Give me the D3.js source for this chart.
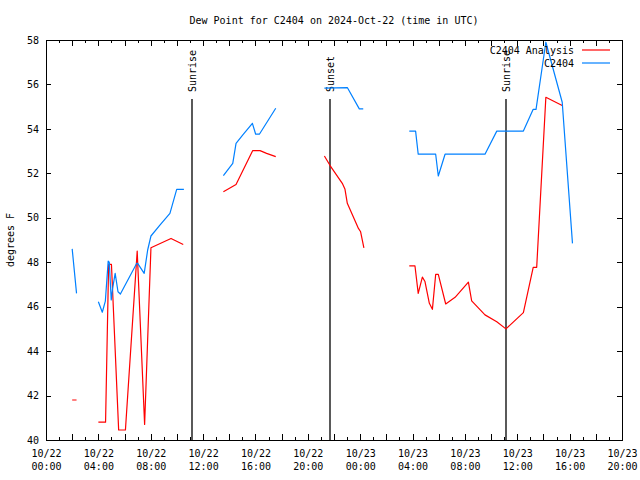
<!DOCTYPE html>
<html><head><meta charset="utf-8">
<script src="https://cdn.jsdelivr.net/npm/d3@7"></script>
<style>
body{margin:0;background:#fff}
svg{display:block}
text{font-family:"DejaVu Sans Mono",monospace;font-size:10px;fill:#000}
</style>
</head><body>
<svg id="c" width="640" height="480"></svg>
<script>
// ---- data (null value = gap in the record) ----
const analysisTimes = [
 "2024-10-22 02:00","2024-10-22 02:20","2024-10-22 03:00",
 "2024-10-22 04:00","2024-10-22 04:33","2024-10-22 04:47","2024-10-22 05:00","2024-10-22 05:33","2024-10-22 06:04",
 "2024-10-22 06:58","2024-10-22 07:32","2024-10-22 08:01","2024-10-22 09:33","2024-10-22 10:29","2024-10-22 12:00",
 "2024-10-22 13:33","2024-10-22 14:31","2024-10-22 15:47","2024-10-22 16:21","2024-10-22 16:51","2024-10-22 17:33","2024-10-22 19:00",
 "2024-10-22 21:16","2024-10-22 21:42","2024-10-22 22:38","2024-10-22 22:50","2024-10-22 23:01","2024-10-22 23:52","2024-10-23 00:02","2024-10-23 00:17","2024-10-23 02:00",
 "2024-10-23 03:45","2024-10-23 04:11","2024-10-23 04:26","2024-10-23 04:45","2024-10-23 04:57","2024-10-23 05:17","2024-10-23 05:31","2024-10-23 05:46","2024-10-23 05:58",
 "2024-10-23 06:32","2024-10-23 07:15","2024-10-23 08:16","2024-10-23 08:31","2024-10-23 09:32","2024-10-23 10:26","2024-10-23 11:08","2024-10-23 12:28",
 "2024-10-23 13:13","2024-10-23 13:29","2024-10-23 14:11","2024-10-23 15:26"
];
const analysisValues = [
 41.8,41.8,null,
 40.8,40.8,47.9,47.9,40.45,40.45,
 48.5,40.7,48.65,49.07,48.8,null,
 51.17,51.5,53.02,53.02,52.9,52.75,null,
 52.78,52.35,51.55,51.3,50.65,49.52,49.37,48.65,null,
 47.84,47.84,46.6,47.33,47.13,46.15,45.88,47.45,47.45,
 46.12,46.42,47.1,46.26,45.63,45.32,45.0,45.73,
 47.77,47.77,55.42,55.05
];
const obsTimes = [
 "2024-10-22 02:00","2024-10-22 02:20","2024-10-22 03:00",
 "2024-10-22 04:00","2024-10-22 04:18","2024-10-22 04:32","2024-10-22 04:45","2024-10-22 04:50","2024-10-22 04:59","2024-10-22 05:05",
 "2024-10-22 05:17","2024-10-22 05:30","2024-10-22 05:41","2024-10-22 06:56","2024-10-22 07:00","2024-10-22 07:30","2024-10-22 07:46",
 "2024-10-22 08:01","2024-10-22 08:42","2024-10-22 09:28","2024-10-22 09:59","2024-10-22 10:32","2024-10-22 12:00",
 "2024-10-22 13:33","2024-10-22 14:16","2024-10-22 14:31","2024-10-22 15:04","2024-10-22 15:46","2024-10-22 16:01","2024-10-22 16:18","2024-10-22 17:33","2024-10-22 19:00",
 "2024-10-22 21:16","2024-10-22 23:01","2024-10-22 23:56","2024-10-23 00:14","2024-10-23 02:00",
 "2024-10-23 03:45","2024-10-23 04:14","2024-10-23 04:26","2024-10-23 05:46","2024-10-23 05:58","2024-10-23 06:29","2024-10-23 09:32",
 "2024-10-23 10:26","2024-10-23 12:28","2024-10-23 13:13","2024-10-23 13:26","2024-10-23 14:11","2024-10-23 15:26","2024-10-23 16:13"
];
const obsValues = [
 48.6,46.6,null,
 46.22,45.75,46.25,48.05,48.0,46.3,46.8,
 47.5,46.67,46.57,47.95,47.95,47.5,48.55,
 49.18,49.67,50.2,51.28,51.28,null,
 51.9,52.45,53.35,53.75,54.25,53.76,53.76,54.93,null,
 55.83,55.86,54.9,54.9,null,
 53.9,53.9,52.86,52.86,51.88,52.86,52.86,
 53.9,53.9,54.88,54.88,57.9,55.2,48.85
];
const sunEventTimes = ["2024-10-22 11:09","2024-10-22 21:42","2024-10-23 11:08"];
const sunEventLabels = ["Sunrise","Sunset","Sunrise"];
const seriesNames = ["C2404 Analysis","C2404"];
const seriesColors = ["#ff0000","#0080ff"];
const yTicks = [40,42,44,46,48,50,52,54,56,58];
const xDomain = ["2024-10-22 00:00","2024-10-23 20:00"];
const titleText = "Dew Point for C2404 on 2024-Oct-22 (time in UTC)";
const yLabel = "degrees F";

// ---- chart ----
const parse = d3.utcParse("%Y-%m-%d %H:%M");
const L = 46, R = 622, T = 40, B = 440;
const svg = d3.select("#c");
const x = d3.scaleUtc().domain(xDomain.map(parse)).range([L, R]);
const y = d3.scaleLinear().domain([40, 58]).range([B, T]);

svg.append("rect").attr("width",640).attr("height",480).attr("fill","#fff");

// title
svg.append("text").attr("x", (L + R) / 2).attr("y", 24).attr("text-anchor","middle").text(titleText);
// y label
svg.append("text").attr("transform","translate(14,240) rotate(-90)").attr("text-anchor","middle").text(yLabel);

const hours = d3.utcHour.range(x.domain()[0], d3.utcHour.offset(x.domain()[1], 1));
const hours2 = hours.filter(d => d.getUTCHours() % 2 === 0);
const hours4 = hours.filter(d => d.getUTCHours() % 4 === 0);

function tickAxis(axis, ty) {
  const g = svg.append("g").attr("transform", `translate(0,${ty})`).call(axis);
  g.select(".domain").remove();
  g.selectAll("line").attr("stroke","#000").attr("shape-rendering","crispEdges");
  g.selectAll("text").remove();
  return g;
}
tickAxis(d3.axisBottom(x).tickValues(hours).tickSize(-3).tickFormat(""), B);
tickAxis(d3.axisBottom(x).tickValues(hours2).tickSize(-6).tickFormat(""), B);
tickAxis(d3.axisTop(x).tickValues(hours).tickSize(-3).tickFormat(""), T);
tickAxis(d3.axisTop(x).tickValues(hours2).tickSize(-6).tickFormat(""), T);

// x labels (two lines)
const xl = svg.append("g").attr("transform", `translate(0,${B})`)
  .call(d3.axisBottom(x).tickValues(hours4).tickSize(0).tickPadding(0).tickFormat(d3.utcFormat("%m/%d")));
xl.select(".domain").remove();
xl.selectAll(".tick text").each(function(d) {
  const t = d3.select(this);
  t.text(null).attr("y", 0).attr("dy", null).attr("font-size", null).attr("font-family", null);
  t.append("tspan").attr("x", 0).attr("y", 17).text(d3.utcFormat("%m/%d")(d));
  t.append("tspan").attr("x", 0).attr("y", 30).text(d3.utcFormat("%H:%M")(d));
});

// y axes
const yl = svg.append("g").attr("transform", `translate(${L},0)`)
  .call(d3.axisLeft(y).tickValues(yTicks).tickSize(-5).tickPadding(7).tickFormat(d3.format("d")));
yl.select(".domain").remove();
yl.selectAll("line").attr("stroke","#000").attr("shape-rendering","crispEdges");
yl.selectAll("text").attr("font-size", null).attr("font-family", null);
const yr = svg.append("g").attr("transform", `translate(${R},0)`)
  .call(d3.axisRight(y).tickValues(yTicks).tickSize(-5).tickFormat(""));
yr.select(".domain").remove();
yr.selectAll("line").attr("stroke","#000").attr("shape-rendering","crispEdges");

// sun event lines
sunEventTimes.forEach((t, i) => {
  const px = Math.round(x(parse(t)));
  svg.append("line").attr("x1", px).attr("x2", px).attr("y1", 99).attr("y2", B)
    .attr("stroke","#000").attr("stroke-width",1.3);
  svg.append("text").attr("transform", `translate(${px + 4},92) rotate(-90)`).text(sunEventLabels[i]);
});

// series
const series = [
  {times: analysisTimes, values: analysisValues},
  {times: obsTimes, values: obsValues}
];
const line = d3.line().defined(d => d.v != null).x(d => x(d.t)).y(d => y(d.v));
series.forEach((s, i) => {
  const pts = s.times.map((t, j) => ({t: parse(t), v: s.values[j]}));
  svg.append("path").datum(pts).attr("d", line).attr("fill","none")
    .attr("stroke", seriesColors[i]).attr("stroke-width",1.2).attr("stroke-linejoin","round");
});

// border
svg.append("rect").attr("x", L).attr("y", T).attr("width", R - L).attr("height", B - T)
  .attr("fill","none").attr("stroke","#000").attr("shape-rendering","crispEdges");

// legend
seriesNames.forEach((n, i) => {
  const ly = 50 + i * 13;
  svg.append("text").attr("x", 574).attr("y", ly + 3.5).attr("text-anchor","end").text(n);
  svg.append("line").attr("x1", 582).attr("x2", 610).attr("y1", ly).attr("y2", ly)
    .attr("stroke", seriesColors[i]).attr("stroke-width",1.2);
});
</script>
</body></html>
